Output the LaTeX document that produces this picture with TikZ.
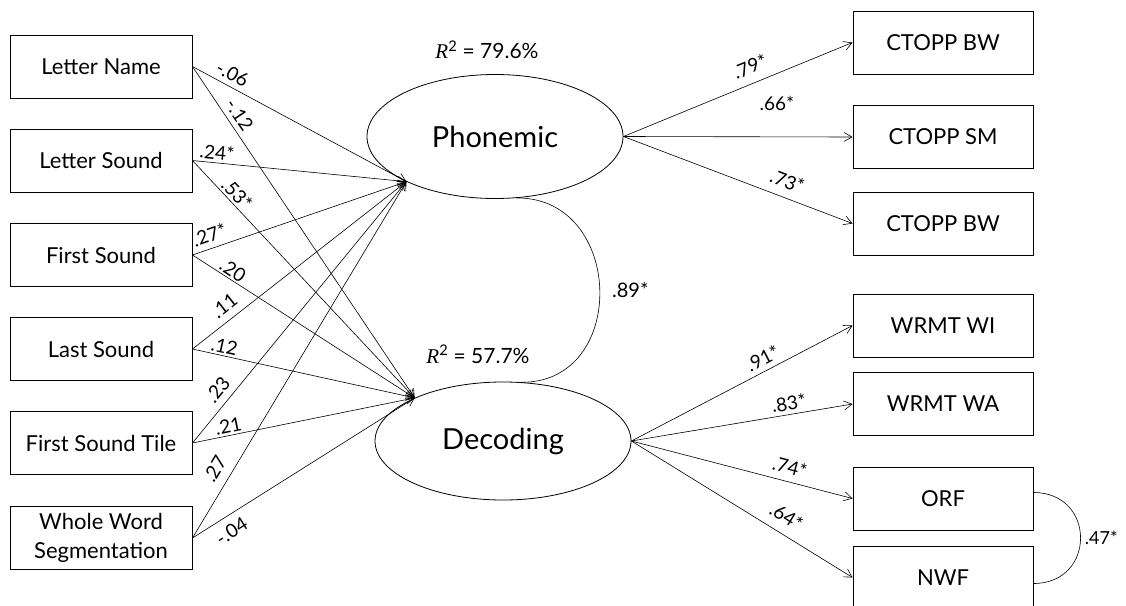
\documentclass[tikz,border=0pt]{standalone}
\usepackage{fontspec}
\setmainfont{Lato}
\newfontfamily\serifit{Liberation Serif}
\usetikzlibrary{shapes.geometric,arrows.meta}
\begin{document}
\begin{tikzpicture}[x=1pt,y=-1pt,
  box/.style={draw,line width=0.9pt,minimum width=182pt,minimum height=63pt,inner sep=0pt,
    font=\fontsize{22}{29}\selectfont,align=center},
  rbox/.style={box,minimum width=180pt},
  lat/.style={draw,ellipse,line width=0.8pt,minimum width=256pt,minimum height=124pt,inner sep=0pt,
    font=\fontsize{29}{31}\selectfont},
  arr/.style={line width=0.6pt,-{Straight Barb[length=8pt,width=9pt]}},
  coef/.style={font=\fontsize{19}{20}\selectfont,inner sep=0pt,sloped},
  corr/.style={line width=0.6pt},
  rsq/.style={font=\fontsize{21}{22}\selectfont,inner sep=0pt}
]
\useasboundingbox[fill=white] (0,0) rectangle (1126,605);

% left observed
\node[box] (ln)  at (101,66.5) {Letter Name};
\node[box] (ls)  at (101,160.5) {Letter Sound};
\node[box] (fs)  at (101,255) {First Sound};
\node[box] (las) at (101,349) {Last Sound};
\node[box] (fst) at (101,443) {First Sound Tile};
\node[box] (ww)  at (101,538) {Whole Word\\Segmentation};

% latent
\node[lat] (ph) at (495,136.5) {Phonemic};
\node[lat,minimum height=118pt] (dec) at (503,441) {Decoding};
\coordinate (pt) at (ph.207);
\coordinate (dt) at (dec.154.5);

% right indicators
\node[rbox] (c1)  at (943,42.5) {CTOPP BW};
\node[rbox] (c2)  at (943,137) {CTOPP SM};
\node[rbox] (c3)  at (943,223.5) {CTOPP BW};
\node[rbox] (w1)  at (943,325.5) {WRMT WI};
\node[rbox] (w2)  at (943,404) {WRMT WA};
\node[rbox] (orf) at (943,498.5) {ORF};
\node[rbox] (nwf) at (943,577.5) {NWF};

% R-squared
\node[rsq] (r1) at (487,50) {{\serifit\itshape R}\textsuperscript{2} = 79.6\%};
\node[rsq] (r2) at (478,354) {{\serifit\itshape R}\textsuperscript{2} = 57.7\%};

% paths to Phonemic / Decoding
\draw[arr] (ln.east)  -- node[coef,pos=0.16,above=5pt]{-.06} (pt);
\draw[arr] (ln.east)  -- node[coef,pos=0.166,above=5pt]{-.12} (dt);
\draw[arr] (ls.east)  -- node[coef,pos=0.11,above=3pt]{.24*} (pt);
\draw[arr] (ls.east)  -- node[coef,pos=0.17,above=2pt]{.53*} (dt);
\draw[arr] (fs.east)  -- node[coef,pos=0.10,above=6pt]{.27*} (pt);
\draw[arr] (fs.east)  -- node[coef,pos=0.16,above=2pt]{.20} (dt);
\draw[arr] (las.east) -- node[coef,pos=0.19,above=7pt]{.11} (pt);
\draw[arr] (las.east) -- node[coef,pos=0.135,above=2pt]{.12} (dt);
\draw[arr] (fst.east) -- node[coef,pos=0.17,above=7pt]{.23} (pt);
\draw[arr] (fst.east) -- node[coef,pos=0.17,above=2pt]{.21} (dt);
\draw[arr] (ww.east)  -- node[coef,pos=0.17,above=9pt]{.27} (pt);
\draw[arr] (ww.east)  -- node[coef,pos=0.14,below=8pt]{-.04} (dt);

% loadings
\draw[arr] (ph.east) -- node[coef,pos=0.58,above=9pt]{.79*} (c1.west);
\draw[arr] (ph.east) -- node[coef,pos=0.67,above=26pt]{.66*} (c2.west);
\draw[arr] (ph.east) -- node[coef,pos=0.69,above=9pt]{.73*} (c3.west);
\draw[arr] (dec.east) -- node[coef,pos=0.62,above=5pt]{.91*} (w1.west);
\draw[arr] (dec.east) -- node[coef,pos=0.72,above=4pt]{.83*} (w2.west);
\draw[arr] (dec.east) -- node[coef,pos=0.70,above=7pt]{.74*} (orf.west);
\draw[arr] (dec.east) -- node[coef,pos=0.66,above=10pt]{.64*} (nwf.west);

% correlations
\draw[corr] (ph.-70) to[out=0,in=0,looseness=1.48]
  node[right=12pt,font=\fontsize{20}{21}\selectfont,inner sep=0pt]{.89*} (dec.72);
\draw[corr] ([yshift=6pt]orf.east) to[out=0,in=0,looseness=1.77]
  node[right=4pt,font=\fontsize{18}{19}\selectfont,inner sep=0pt]{.47*} ([yshift=-6pt]nwf.east);
\end{tikzpicture}
\end{document}
